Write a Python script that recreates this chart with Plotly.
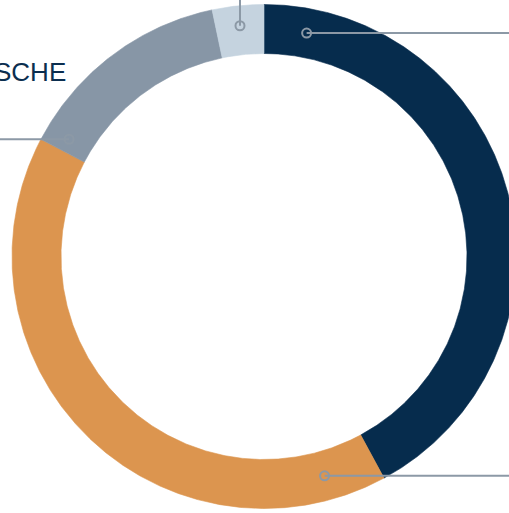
import numpy as np
import plotly.graph_objects as go

# Share of each segment (percent), clockwise from 12 o'clock
segments = ["Segment 1", "Segment 2", "Segment 3", "Segment 4"]
shares = [42.1, 40.6, 14.0, 3.3]
colors = ["#062c4d", "#dc954f", "#8796a6", "#c5d3df"]

# Ring geometry (pixel units) and canvas
W, H = 509, 513
CX, CY = 264, 256.5
R_OUT, R_IN = 252, 203
R_MID = (R_OUT + R_IN) / 2

LEADER = "#8c99a6"

fig = go.Figure()

def pt(angle_deg, r):
    a = np.radians(angle_deg)
    return r * np.sin(a), r * np.cos(a)

total = sum(shares)
start = 0.0
bounds = []
for name, val, col in zip(segments, shares, colors):
    span = val / total * 360.0
    end = start + span
    t = np.linspace(start, end, max(int(span * 3), 8))
    xo, yo = pt(t, R_OUT)
    xi, yi = pt(t[::-1], R_IN)
    xs = np.concatenate([xo, xi, xo[:1]])
    ys = np.concatenate([yo, yi, yo[:1]])
    fig.add_trace(go.Scatter(
        x=xs, y=ys, mode="lines", fill="toself", fillcolor=col,
        line=dict(color=col, width=0.6), name=name, hoverinfo="name",
        showlegend=False,
    ))
    bounds.append((start, end))
    start = end

# Leader lines: anchor angle inside each segment, and where the line runs
anchor_offsets = [10.8, 13.0, 3.3, None]  # degrees after segment start; None = centre
for (s, e), off, direction in zip(bounds, anchor_offsets,
                                  ["right", "right", "left", "up"]):
    ang = (s + e) / 2 if off is None else s + off
    r = R_MID if off is not None else 232
    ax, ay = pt(ang, r)
    if direction == "right":
        lx, ly = [ax, W - CX + 5], [ay, ay]
    elif direction == "left":
        lx, ly = [ax, -CX - 5], [ay, ay]
    else:
        lx, ly = [ax, ax], [ay, CY + 5]
    fig.add_trace(go.Scatter(
        x=lx, y=ly, mode="lines", line=dict(color=LEADER, width=2),
        hoverinfo="skip", showlegend=False, cliponaxis=False,
    ))
    fig.add_trace(go.Scatter(
        x=[ax], y=[ay], mode="markers",
        marker=dict(symbol="circle-open", size=9, color=LEADER,
                    line=dict(width=2, color=LEADER)),
        hoverinfo="skip", showlegend=False,
    ))

fig.add_annotation(
    x=68 - CX, y=CY - 72, xref="x", yref="y", text="SCHE",
    showarrow=False, xanchor="right", yanchor="middle",
    font=dict(family="Liberation Sans, Arial, sans-serif", size=26,
              color="#0b2e4f"),
)

fig.update_layout(
    width=W, height=H, margin=dict(l=0, r=0, t=0, b=0),
    paper_bgcolor="white", plot_bgcolor="white",
    xaxis=dict(range=[-CX, W - CX], visible=False, fixedrange=True),
    yaxis=dict(range=[CY - H, CY], visible=False, fixedrange=True),
    showlegend=False,
)

fig.write_html("out.html")
